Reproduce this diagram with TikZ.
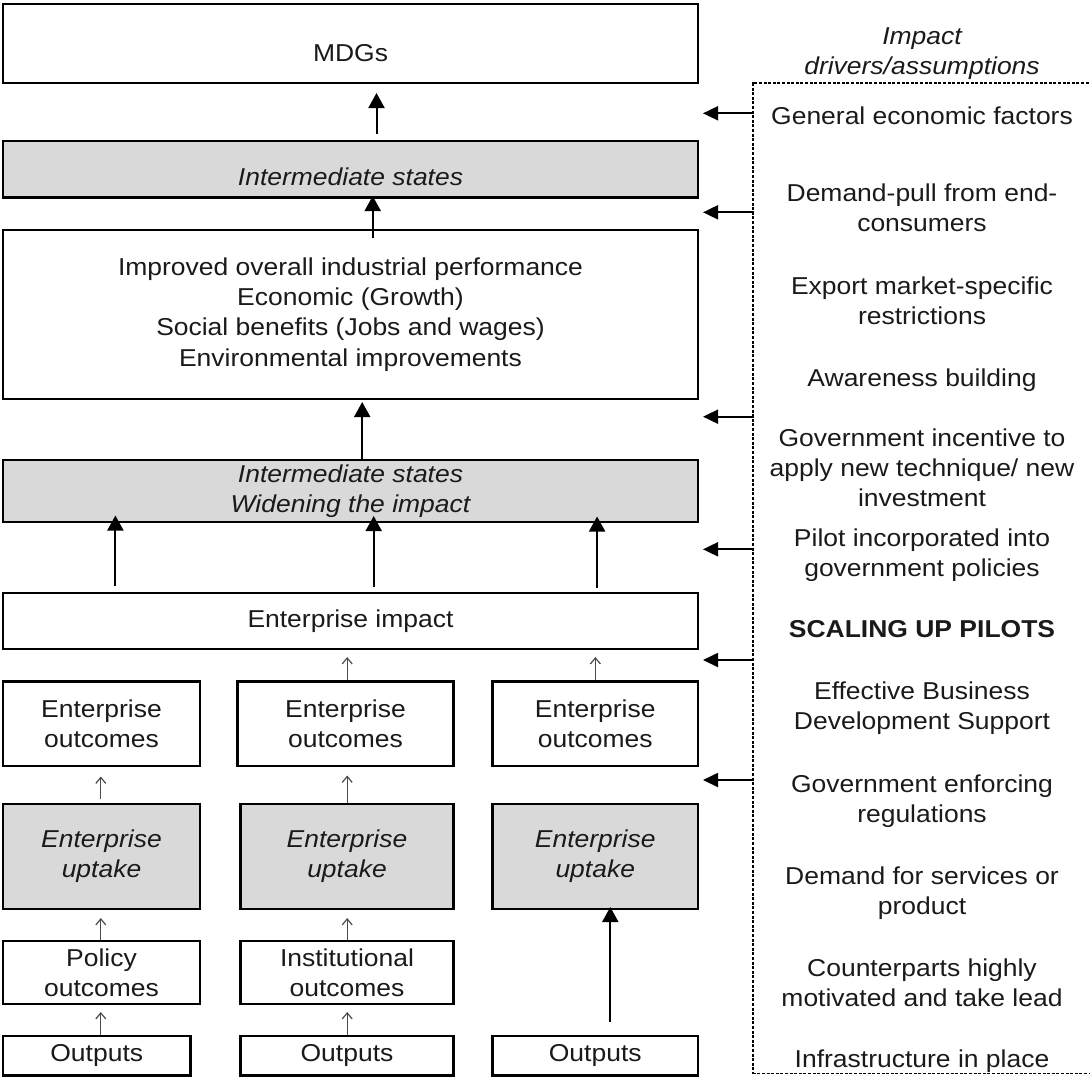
\documentclass[tikz,border=0pt]{standalone}
\usepackage{fontspec}
\setmainfont{Liberation Sans}[FakeStretch=1.085]
\usetikzlibrary{arrows.meta}
\definecolor{ink}{HTML}{1A1A1A}
\definecolor{panel}{HTML}{D9D9D9}
\definecolor{thinline}{HTML}{4A4A4A}
\newcommand\dfont{\fontsize{24.4}{30.2}\selectfont}

\begin{document}
\begin{tikzpicture}[x=1pt, y=-1pt,
  every node/.style={inner sep=0pt, outer sep=0pt, text=ink, font=\dfont},
  box/.style={draw=black, line width=2.7pt, fill=white, align=center},
  shadebox/.style={box, fill=panel, font=\dfont\itshape},
  wide/.style={minimum width=695pt},
  colA/.style={minimum width=197pt},
  colB/.style={minimum width=213pt},
  colC/.style={minimum width=205.5pt},
  drivertext/.style={align=center},
  bigarrow/.style={draw=black, line width=2pt, -{Triangle[width=16pt,length=15pt]}},
  sidearrow/.style={draw=black, line width=1.8pt, -{Triangle[width=14pt,length=15pt]}},
  smallarrow/.style={draw=thinline, line width=1.2pt, -{Straight Barb[length=6pt,width=10pt,line width=1.2pt]}},
  driverbox/.style={draw=black, line width=1.6pt, dash pattern=on 3pt off 1.6pt},
]
\useasboundingbox (0,0) rectangle (1090,1077);

% ---- results chain (left) ----
\node[box, wide, minimum height=79pt, text height=36.4pt, text depth=0pt] (mdg) at (350.5,43.5) {MDGs};
\node[shadebox, wide, minimum height=56.5pt, text height=31.5pt, text depth=0pt] (is1) at (350.5,169.25) {Intermediate states};
\node[box, wide, minimum height=169pt] (big) at (350.5,314.5)
  {Improved overall industrial performance\\Economic (Growth)\\Social benefits (Jobs and wages)\\Environmental improvements};
\node[shadebox, wide, minimum height=62pt] (is2) at (350.5,491) {Intermediate states\\Widening the impact};
\node[box, wide, minimum height=56pt] (imp) at (350.5,621) {Enterprise impact};

\node[box, colA, minimum height=84.5pt] (oc1) at (101.5,723.75) {Enterprise\\outcomes};
\node[box, minimum width=216pt, minimum height=84.5pt] (oc2) at (345.5,723.75) {Enterprise\\outcomes};
\node[box, colC, minimum height=84.5pt] (oc3) at (595.25,723.75) {Enterprise\\outcomes};

\node[shadebox, colA, minimum height=105pt] (up1) at (101.5,856.5) {Enterprise\\uptake};
\node[shadebox, colB, minimum height=105pt] (up2) at (347,856.5) {Enterprise\\uptake};
\node[shadebox, colC, minimum height=105pt] (up3) at (595.25,856.5) {Enterprise\\uptake};

\node[box, colA, minimum height=63pt] (po1) at (101.5,972.5) {Policy\\outcomes};
\node[box, colB, minimum height=63pt] (po2) at (347,972.5) {Institutional\\outcomes};

\node[box, minimum width=187.5pt, minimum height=39.7pt] (out1) at (96.75,1055.85) {Outputs};
\node[box, colB, minimum height=39.7pt] (out2) at (347,1055.85) {Outputs};
\node[box, colC, minimum height=39.7pt] (out3) at (595.25,1055.85) {Outputs};

% column guides for the vertical connectors
\coordinate (xa) at (100.8,0);
\coordinate (xb) at (347.2,0);
\coordinate (xc) at (595.4,0);
\coordinate (xd) at (610.3,0);

% ---- upward connectors ----
\draw[bigarrow, shorten <=7pt, shorten >=10pt] ([xshift=26pt]is1.north) -- ([xshift=26pt]mdg.south);
\draw[bigarrow, shorten <=-8pt, shorten >=-1.5pt] ([xshift=22.2pt]big.north) -- ([xshift=22.2pt]is1.south);
\draw[bigarrow, shorten <=1pt, shorten >=3pt] ([xshift=11.7pt]is2.north) -- ([xshift=11.7pt]big.south);
\draw[bigarrow, shorten <=7pt, shorten >=-6.5pt] ([xshift=-235.1pt]imp.north) -- ([xshift=-235.1pt]is2.south);
\draw[bigarrow, shorten <=6.5pt, shorten >=-6pt] ([xshift=23.2pt]imp.north) -- ([xshift=23.2pt]is2.south);
\draw[bigarrow, shorten <=5pt, shorten >=-5.5pt] ([xshift=246.6pt]imp.north) -- ([xshift=246.6pt]is2.south);

\draw[smallarrow, shorten <=1.5pt, shorten >=8pt] (oc2.north -| xb) -- (imp.south -| xb);
\draw[smallarrow, shorten <=1.5pt, shorten >=8pt] (oc3.north -| xc) -- (imp.south -| xc);
\draw[smallarrow, shorten <=5pt, shorten >=10.5pt] (up1.north -| xa) -- (oc1.south -| xa);
\draw[smallarrow, shorten <=1pt, shorten >=9.5pt] (up2.north -| xb) -- (oc2.south -| xb);
\draw[smallarrow, shorten <=1pt, shorten >=9pt] (po1.north -| xa) -- (up1.south -| xa);
\draw[smallarrow, shorten <=1pt, shorten >=9pt] (po2.north -| xb) -- (up2.south -| xb);
\draw[smallarrow, shorten <=1.5pt, shorten >=8pt] (out1.north -| xa) -- (po1.south -| xa);
\draw[smallarrow, shorten <=1.5pt, shorten >=8pt] (out2.north -| xb) -- (po2.south -| xb);
\draw[bigarrow, shorten <=14pt, shorten >=-2pt] (out3.north -| xd) -- (up3.south -| xd);

% ---- impact drivers / assumptions (right) ----
\node[drivertext, font=\dfont\itshape] (head) at (922,53.4) {Impact\\drivers/assumptions};
\node[driverbox, minimum width=342pt, minimum height=990.5pt] (drv) at (923.75,578.25) {};

\node[anchor=base] (g1) at (922,124.5) {General economic factors};
\node[drivertext] (g2) at (922,207.8) {Demand-pull from end-\\consumers};
\node[drivertext] (g3) at (922,301.1) {Export market-specific\\restrictions};
\node[anchor=base] (g4) at (922,386) {Awareness building};
\node[drivertext] (g5) at (922,467.8) {Government incentive to\\apply new technique/ new\\investment};
\node[drivertext] (g6) at (922,555) {Pilot incorporated into\\government policies};
\node[anchor=base, font=\dfont\bfseries] (g7) at (922,637.3) {SCALING UP PILOTS};
\node[drivertext] (g8) at (922,708.4) {Effective Business\\Development Support};
\node[drivertext] (g9) at (922,801.35) {Government enforcing\\regulations};
\node[drivertext] (g10) at (922,893) {Demand for services or\\product};
\node[drivertext] (g11) at (922,983.1) {Counterparts highly\\motivated and take lead};
\node[anchor=base] (g12) at (922,1067.3) {Infrastructure in place};

% arrow tips of the driver connectors
\coordinate (d1) at (703,113.3);
\coordinate (d2) at (703,212.3);
\coordinate (d3) at (703,416.7);
\coordinate (d4) at (703,549.3);
\coordinate (d5) at (703,660);
\coordinate (d6) at (703,780);
\foreach \t in {d1,d2,d3,d4,d5,d6}
  \draw[sidearrow, shorten <=-1.5pt] (drv.west |- \t) -- (\t);
\end{tikzpicture}
\end{document}
